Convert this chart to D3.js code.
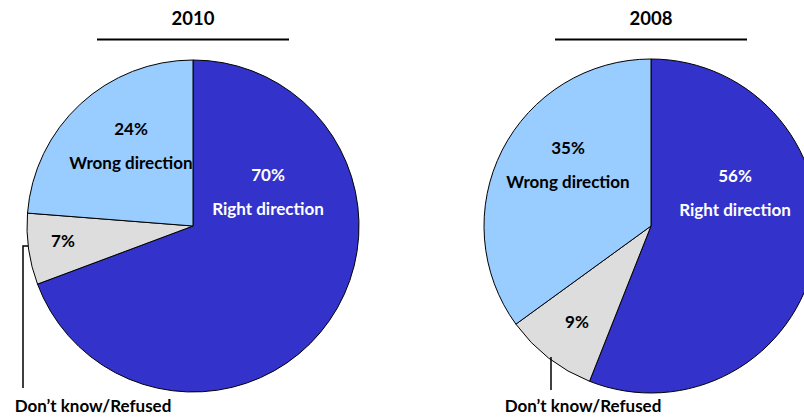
<!DOCTYPE html>
<html><head><meta charset="utf-8">
<script src="https://cdn.jsdelivr.net/npm/d3@7"></script>
<style>body{margin:0;background:#fff}svg{display:block}text{font-family:Lato,"Open Sans",sans-serif;font-weight:bold}</style>
</head><body>
<script>
const categories = ["Right direction", "Don\u2019t know/Refused", "Wrong direction"];
const years = ["2010", "2008"];
const values2010 = [70, 7, 24];
const values2008 = [56, 9, 35];
const colors = ["#3333CC", "#DDDDDD", "#99CCFF"];

const W = 804, H = 420;
const svg = d3.select("body").append("svg").attr("width", W).attr("height", H);

const panels = [
  {year: years[0], values: values2010, cx: 193, cy: 226, r: 166,
   lab: [[75, -34], [-130, 15], [-62, -80]], leader: [[28, 246], [23, 246], [23, 388]], dk: [93, 406]},
  {year: years[1], values: values2008, cx: 651, cy: 226, r: 167,
   lab: [[84, -33], [-74, 96], [-83, -61]], leader: [[551, 357], [551, 390]], dk: [583, 406]}
];

const pie = d3.pie().sort(null).value(d => d);
const arc = d3.arc().innerRadius(0);

panels.forEach(p => {
  const g = svg.append("g");
  g.append("text").attr("x", p.cx).attr("y", 25).attr("text-anchor", "middle")
    .attr("font-size", 18.5).attr("fill", "#000").text(p.year);
  g.append("line").attr("x1", p.cx - 96).attr("x2", p.cx + 96).attr("y1", 39.5).attr("y2", 39.5)
    .attr("stroke", "#000").attr("stroke-width", 2);
  const arcs = pie(p.values);
  const pg = g.append("g").attr("transform", `translate(${p.cx},${p.cy})`);
  pg.selectAll("path").data(arcs).join("path")
    .attr("d", d => arc.outerRadius(p.r)(d))
    .attr("fill", (d, i) => colors[i])
    .attr("stroke", "#000").attr("stroke-width", 1);
  arcs.forEach((d, i) => {
    const [dx, dy] = p.lab[i];
    const fill = i === 0 ? "#fff" : "#000";
    const t = pg.append("text").attr("text-anchor", "middle").attr("font-size", 17).attr("fill", fill);
    if (i === 1) {
      t.attr("x", dx).attr("y", dy + 6).text(p.values[i] + "%");
    } else {
      t.append("tspan").attr("x", dx).attr("y", dy - 11).text(p.values[i] + "%");
      t.append("tspan").attr("x", dx).attr("y", dy + 23).text(categories[i]);
    }
  });
  g.append("path").attr("d", d3.line()(p.leader)).attr("fill", "none").attr("stroke", "#000").attr("stroke-width", 1.5);
  g.append("text").attr("x", p.dk[0]).attr("y", p.dk[1] + 6).attr("text-anchor", "middle")
    .attr("font-size", 17).attr("fill", "#000").text(categories[1]);
});
</script>
</body></html>
